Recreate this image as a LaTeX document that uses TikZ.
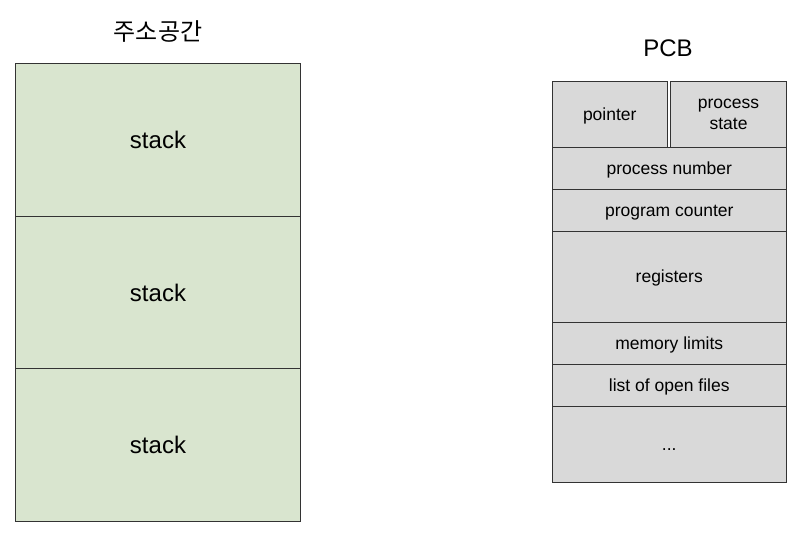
\documentclass[tikz,border=0pt]{standalone}
\usepackage{fontspec}
\setmainfont{Liberation Sans}
\newfontfamily\kofont{Noto Sans CJK KR}
\definecolor{stackgreen}{HTML}{D9E5CF}
\definecolor{pcbgray}{HTML}{D9D9D9}
\definecolor{edge}{HTML}{333333}
\begin{document}
\begin{tikzpicture}[x=1pt,y=-1pt,
  cell/.style={draw=edge, line width=1pt, anchor=north west, inner sep=0pt},
  stackbox/.style={cell, fill=stackgreen, minimum width=285pt, minimum height=152.7pt, font=\fontsize{24}{28}\selectfont},
  pcbbox/.style={cell, fill=pcbgray, font=\fontsize{17.5}{21}\selectfont},
  oneline/.style={text height=16pt, text depth=3.5pt},
  titletext/.style={font=\fontsize{24}{28}\selectfont}]
\useasboundingbox (0,0) rectangle (805,538);
% left: address space
\node[titletext] (ttl) at (158,31) {\kofont 주소공간};
\node[stackbox] (s1) at (15,63) {stack};
\node[stackbox] (s2) at (15,215.7) {stack};
\node[stackbox] (s3) at (15,368.4) {stack};
% right: PCB
\node[titletext] (pcbt) at (668,48) {PCB};
\node[pcbbox, oneline, minimum width=115.5pt, minimum height=65.7pt] (ptr) at (551.5,81) {pointer};
\node[pcbbox, minimum width=116pt, minimum height=65.7pt] (pst) at (670,81) {\raisebox{-4pt}{\begin{tabular}{@{}c@{}}process\\state\end{tabular}}};
\node[pcbbox, oneline, minimum width=234.5pt, minimum height=42pt] (pnum) at (551.5,146.7) {process number};
\node[pcbbox, oneline, minimum width=234.5pt, minimum height=42pt] (pc) at (551.5,188.7) {program counter};
\node[pcbbox, oneline, minimum width=234.5pt, minimum height=91pt] (reg) at (551.5,230.7) {registers};
\node[pcbbox, oneline, minimum width=234.5pt, minimum height=42pt] (mem) at (551.5,321.7) {memory limits};
\node[pcbbox, oneline, minimum width=234.5pt, minimum height=42pt] (files) at (551.5,363.7) {list of open files};
\node[pcbbox, oneline, minimum width=234.5pt, minimum height=76pt] (etc) at (551.5,405.7) {...};
\end{tikzpicture}
\end{document}
